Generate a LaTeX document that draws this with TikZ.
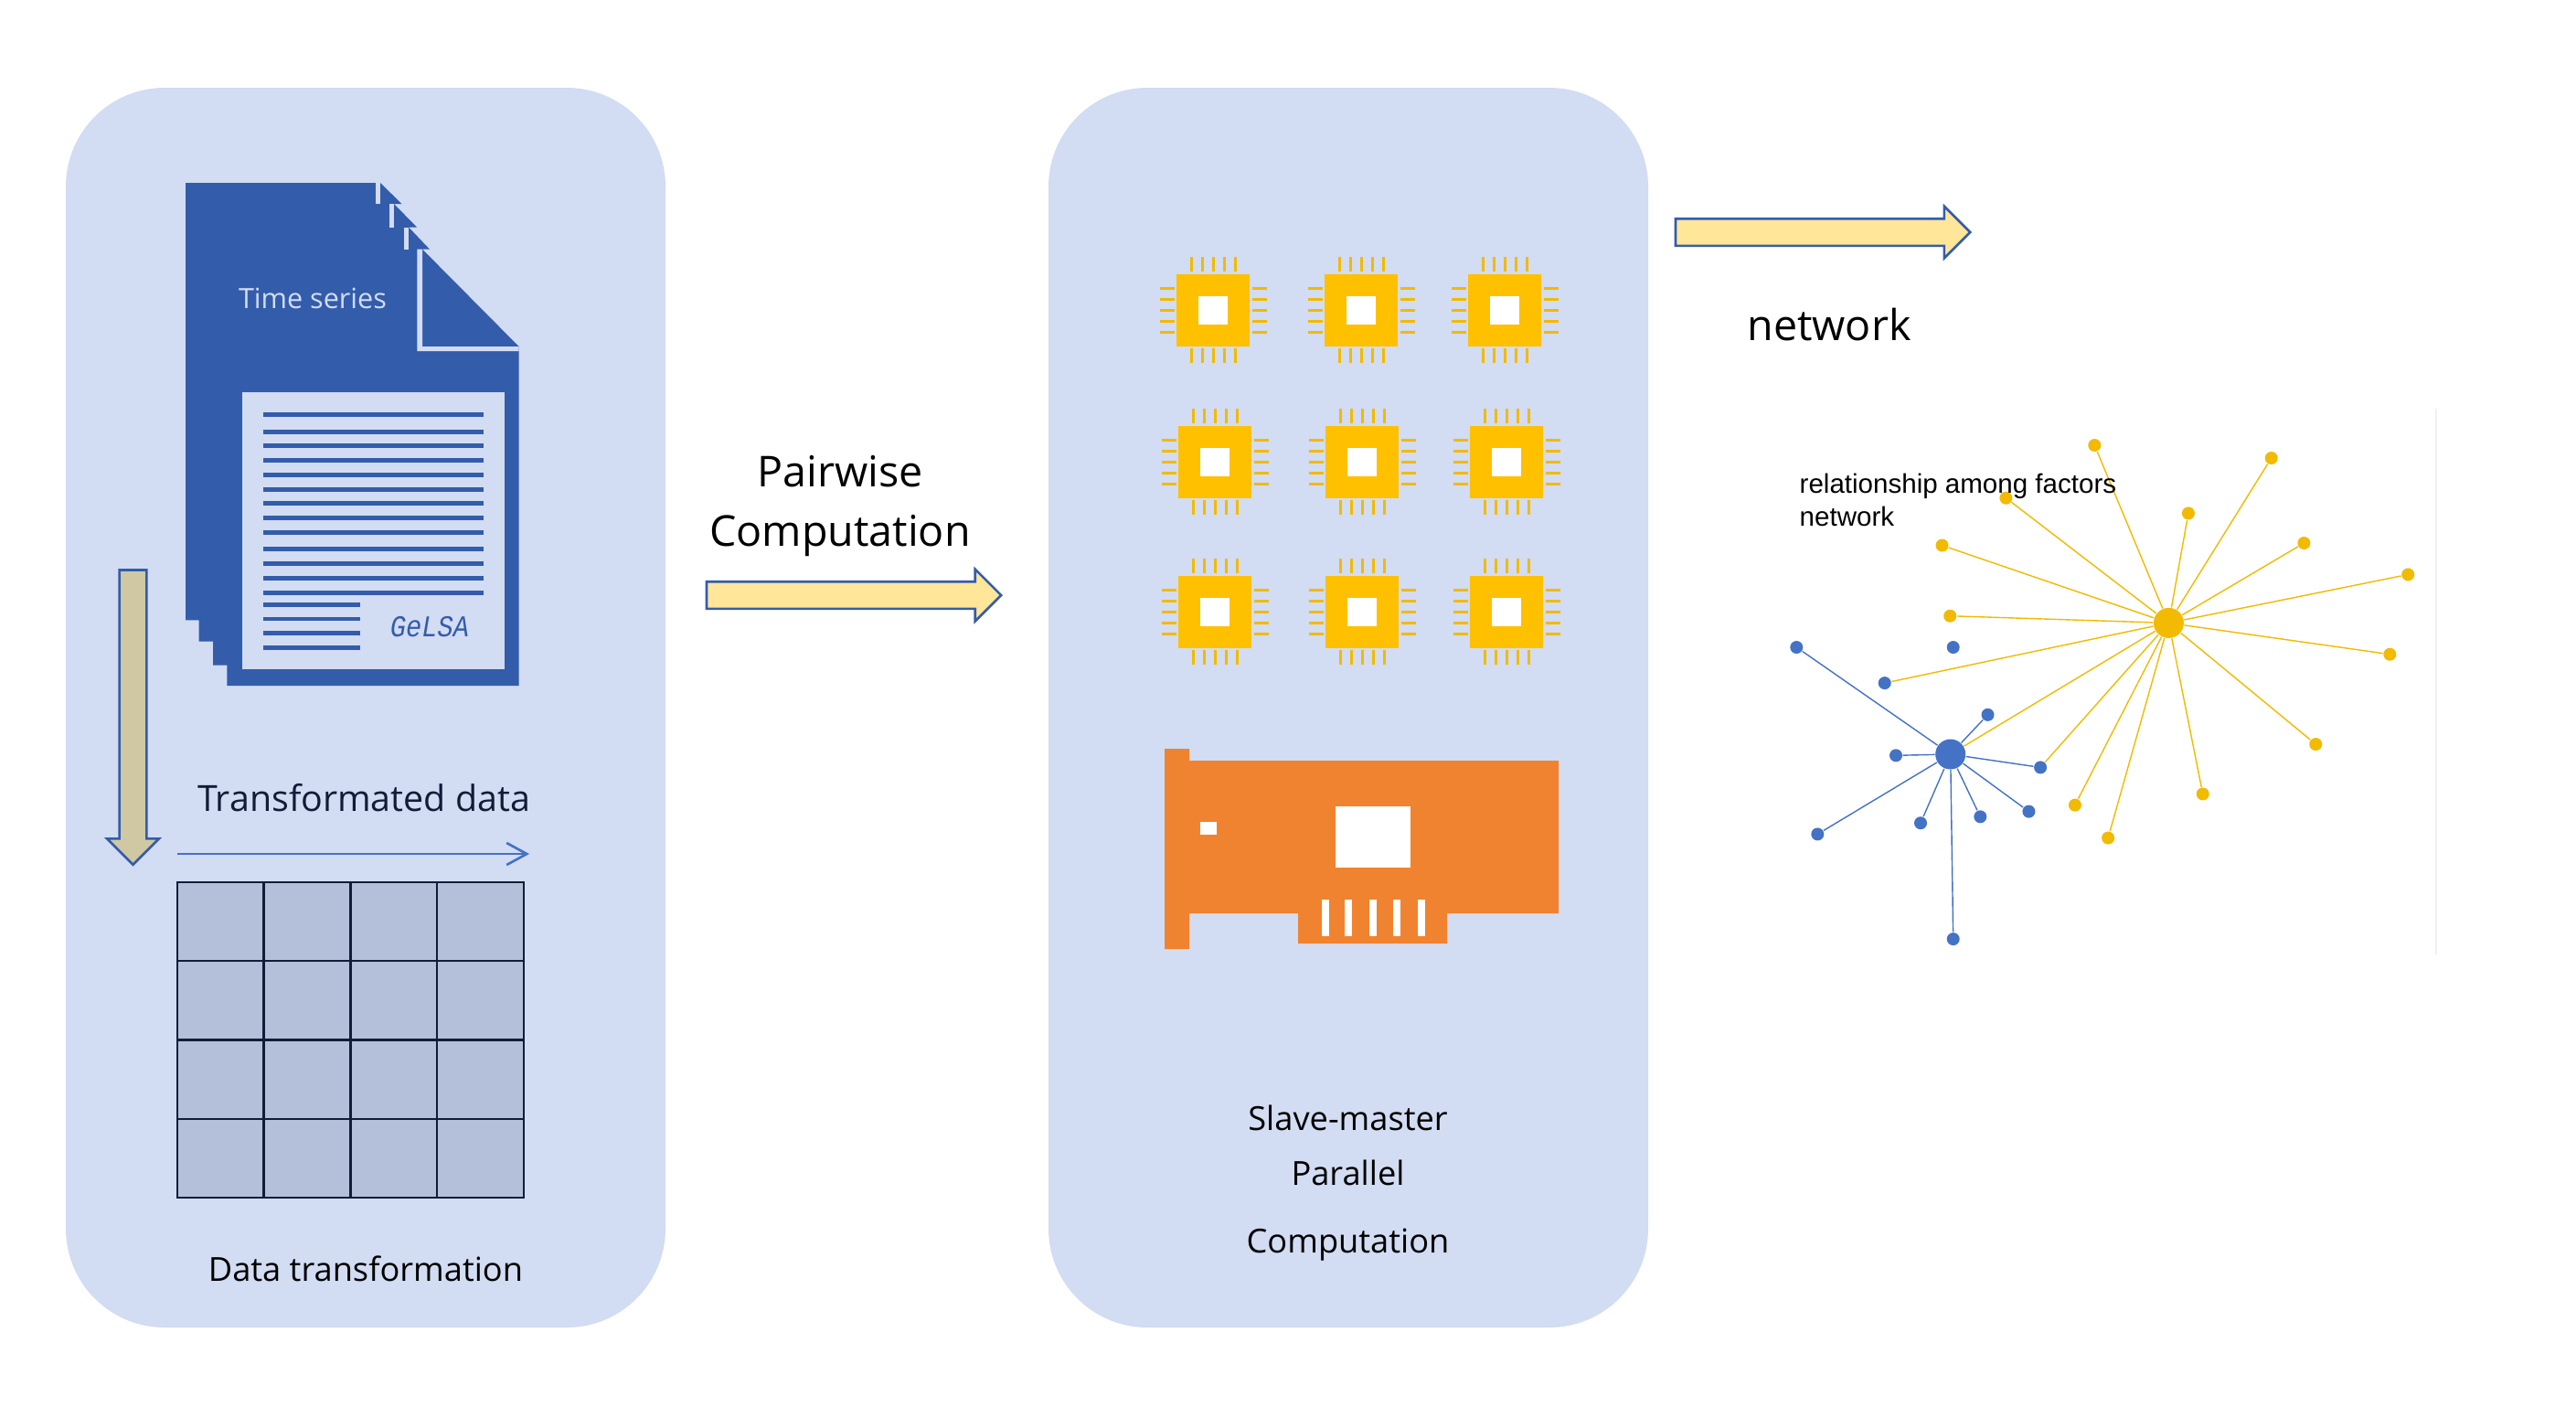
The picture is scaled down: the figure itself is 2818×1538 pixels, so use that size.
\documentclass[tikz,border=0pt]{standalone}
\usepackage{fontspec}
\setmainfont{Open Sans}
\newfontfamily\arialfont{Liberation Sans}
\newfontfamily\gelsafont{Liberation Mono}
\usetikzlibrary{arrows.meta, positioning, shapes.arrows}

\definecolor{panelblue}{HTML}{D2DCF2}
\definecolor{docblue}{HTML}{335CAB}
\definecolor{linkblue}{HTML}{4472C4}
\definecolor{chipgold}{HTML}{FFC000}
\definecolor{pingold}{HTML}{F2BA00}
\definecolor{cardorange}{HTML}{F0832F}
\definecolor{arrowcream}{HTML}{FFE699}
\definecolor{arrowkhaki}{HTML}{CFC8A2}
\definecolor{cellblue}{HTML}{B4C0DA}
\definecolor{inknavy}{HTML}{111C38}

\tikzset{
    panel/.style={rounded corners=1.08cm, fill=panelblue},
    blockarrow/.style={single arrow, draw=docblue, line width=0.75pt, fill=arrowcream, inner xsep=0pt, inner ysep=0.135cm,
        single arrow head indent=0pt, single arrow tip angle=90, single arrow head extend=0.135cm,
        minimum width=0.54cm, minimum height=3.22cm, anchor=tip},
    chipbody/.style={fill=chipgold, inner sep=0pt, minimum width=0.8cm, minimum height=0.79cm},
    chiphole/.style={fill=white, inner sep=0pt, minimum width=0.32cm, minimum height=0.31cm},
    chippin/.style={draw=pingold, line width=0.85pt},
    yleaf/.style={circle, fill=pingold, inner sep=0pt, minimum size=0.14cm},
    bleaf/.style={circle, fill=linkblue, inner sep=0pt, minimum size=0.14cm},
    yhub/.style={circle, fill=pingold, inner sep=0pt, minimum size=0.33cm},
    bhub/.style={circle, fill=linkblue, inner sep=0pt, minimum size=0.33cm},
    yedge/.style={draw=pingold, line width=0.4pt},
    bedge/.style={draw=linkblue, line width=0.4pt},
    label/.style={font=\fontsize{10.3}{13}\selectfont, text=black, inner sep=0pt, anchor=base},
    biglabel/.style={font=\fontsize{13.25}{15}\selectfont, text=black, inner sep=0pt, anchor=base}
}

\begin{document}
\begin{tikzpicture}[x=0.01cm, y=-0.01cm]
    \useasboundingbox (0,0) rectangle (2818,1538);

    % panels
    \fill[panel] (72,96) rectangle (728,1452);
    \fill[panel] (1147,96) rectangle (1803,1452);

    % document stack
    \fill[docblue] (203,200) -- (416,200) -- (439.5,223) -- (431,223) -- (456,248.5) -- (447,248.5) -- (470,272.6)
        -- (462,272.6) -- (567.6,379) -- (567.6,750) -- (248.4,750) -- (248.4,727.5) -- (233,727.5) -- (233,701.6)
        -- (217.6,701.6) -- (217.6,678.4) -- (203,678.4) -- cycle;
    \fill[panelblue] (411,200) rectangle (416,223);
    \fill[panelblue] (426,223) rectangle (431,248.5);
    \fill[panelblue] (442,248.5) rectangle (447,272.6);
    \fill[panelblue] (456.4,272.6) -- (462,272.6) -- (462,379) -- (567.6,379) -- (567.6,384) -- (456.4,384) -- cycle;
    \fill[panelblue] (264.5,429) rectangle (552,731.5);
    \foreach \ly in {453.4,472.1,487.8,503.4,519,535,550.3,566.4,582.4,600.7,616.3,632.4,648}
        \fill[docblue] (288,\ly-2.5) rectangle (529,\ly+2.5);
    \foreach \ly in {661.4,677,692.7,708.7}
        \fill[docblue] (288,\ly-2.3) rectangle (394,\ly+2.3);
    \node[text=panelblue, font=\fontsize{8.7}{11}\selectfont, inner sep=0pt] (series) at (342,326) {Time series};
    \node[text=docblue, font=\gelsafont\itshape\fontsize{9.4}{11}\selectfont, xscale=0.87, inner sep=0pt, anchor=base] (gelsa) at (470,696) {GeLSA};

    % data table
    \fill[cellblue] (194,965) rectangle (573,1310);
    \draw[inknavy, line width=0.66pt] (194,965) rectangle (573,1310);
    \foreach \tx in {288.5,383.5,478} \draw[inknavy, line width=0.66pt] (\tx,965) -- (\tx,1310);
    \foreach \ty in {1051,1137.5,1224} \draw[inknavy, line width=0.66pt] (194,\ty) -- (573,\ty);

    % arrows
    \node[blockarrow, fill=arrowkhaki, shape border rotate=270, inner xsep=0.135cm, inner ysep=0pt] (downArrow) at (145.5,947.5) {};
    \node[blockarrow] (pairArrow) at (1097,651) {};
    \node[blockarrow] (netArrow) at (2157,254) {};
    \coordinate (transStart) at (194,934);
    \coordinate (transEnd) at (579,934);
    \draw[linkblue, line width=0.75pt, -{Straight Barb[length=0.22cm, width=0.24cm]}] (transStart) -- (transEnd);

    % chips
    \foreach \cname/\cx/\cy in {c11/1327/339.5,c12/1489/339.5,c13/1646/339.5,
        c21/1329/505.5,c22/1490/505.5,c23/1648/505.5,
        c31/1329/669,c32/1490/669,c33/1648/669} {
        \node[chipbody] (\cname) at (\cx,\cy) {};
        \node[chiphole] (\cname hole) at (\cx,\cy) {};
        \foreach \d in {-24,-12,0,12,24} {
            \draw[chippin] (\cx+\d,\cy-58.5) -- (\cx+\d,\cy-42.5);
            \draw[chippin] (\cx+\d,\cy+41.5) -- (\cx+\d,\cy+57.5);
            \draw[chippin] (\cx-58,\cy+\d) -- (\cx-42,\cy+\d);
            \draw[chippin] (\cx+43,\cy+\d) -- (\cx+59,\cy+\d);
        }
    }

    % board
    \fill[cardorange] (1274,819) -- (1301,819) -- (1301,832) -- (1705,832) -- (1705,999) -- (1583,999) -- (1583,1032)
        -- (1420,1032) -- (1420,999) -- (1301,999) -- (1301,1038) -- (1274,1038) -- cycle;
    \fill[white] (1313,899) rectangle (1331,913);
    \fill[white] (1461,882) rectangle (1543,949);
    \foreach \bx in {1446,1471,1498,1524,1551}
        \fill[white] (\bx,984) rectangle (\bx+8,1024);

    % network
    \draw[gray!12, line width=0.4pt] (2665,447) -- (2665,1044);
    \node[yhub] (hubY) at (2372.4,681.4) {};
    \node[bhub] (hubB) at (2133.7,825) {};
    \foreach \nname/\nx/\ny in {y1/2291.3/487,y2/2484.7/501,y3/2393.9/561.4,y4/2520.4/594,y5/2634.2/628.4,
        y6/2614.3/715.7,y7/2533.2/814,y8/2409.7/868.4,y9/2306.1/916.5,y10/2269.9/880.6,
        y11/2194.4/544.7,y12/2124.5/596.5,y13/2133.2/673.7}
        \node[yleaf] (\nname) at (\nx,\ny) {};
    \foreach \nname/\nx/\ny in {b1/1965.3/708,b2/2136.7/708,b3/2061.7/747.1,b4/2174.5/781.8,b5/2074/826.3,
        b6/2232.1/839.4,b7/2219.4/887.6,b8/2166.3/893.3,b9/2101/900.2,b10/1988.3/912.4,b11/2136.7/1027.1}
        \node[bleaf] (\nname) at (\nx,\ny) {};
    \foreach \nname in {y1,y2,y3,y4,y5,y6,y7,y8,y9,y10,y11,y12,y13,b3,b6,hubB}
        \draw[yedge] (hubY) -- (\nname);
    \foreach \nname in {b1,b4,b5,b6,b7,b8,b9,b10,b11}
        \draw[bedge] (hubB) -- (\nname);

    % labels
    \node[label, text=inknavy, font=\fontsize{11.2}{13}\selectfont] (transLabel) at (398,887.5) {Transformated data};
    \node[label] (dataLabel) at (400,1401.7) {Data transformation};
    \node[biglabel] (pairLabel) at (919,532) {Pairwise};
    \node[biglabel, below=0.65cm of pairLabel.base, anchor=base] (compLabel) {Computation};
    \node[label] (slaveLabel) at (1474.5,1236.7) {Slave-master};
    \node[label] (parLabel) at (1474.5,1296.7) {Parallel};
    \node[label] (compLabelB) at (1474.5,1370.3) {Computation};
    \node[biglabel] (netLabel) at (2001,372) {network};
    \node[inner sep=0pt, anchor=base west, font=\arialfont\fontsize{8.4}{10}\selectfont] (relLabel) at (1968,539) {relationship among factors};
    \node[inner sep=0pt, anchor=base west, font=\arialfont\fontsize{8.4}{10}\selectfont] (relLabelB) at (1968,575) {network};
\end{tikzpicture}
\end{document}
